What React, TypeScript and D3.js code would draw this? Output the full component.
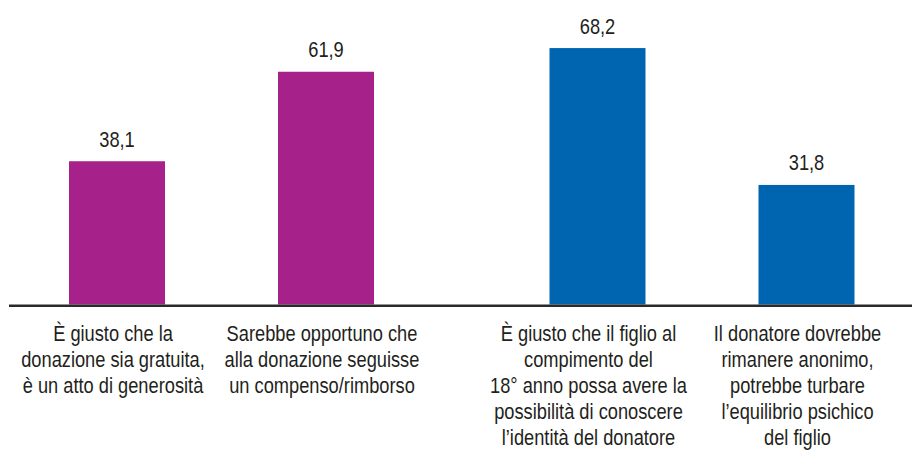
import React from "react";
import * as d3 from "d3";

const categories: string[][] = [
  ["È giusto che la", "donazione sia gratuita,", "è un atto di generosità"],
  ["Sarebbe opportuno che", "alla donazione seguisse", "un compenso/rimborso"],
  ["È giusto che il figlio al", "compimento del", "18° anno possa avere la", "possibilità di conoscere", "l’identità del donatore"],
  ["Il donatore dovrebbe", "rimanere anonimo,", "potrebbe turbare", "l’equilibrio psichico", "del figlio"],
];
const values: number[] = [38.1, 61.9, 68.2, 31.8];
const valueLabels: string[] = ["38,1", "61,9", "68,2", "31,8"];
const groups: string[] = ["A", "A", "B", "B"];
const groupColors: Record<string, string> = { A: "#A6218A", B: "#0065B0" };

const W = 912;
const H = 450;
const FONT = "'Liberation Sans', Arial, sans-serif";
const TEXT = "#231F20";
const SX = 0.83; // horizontal condensation of text

export default function App() {
  const baseY = 304.5;
  const y = d3.scaleLinear().domain([0, 100]).range([baseY, baseY - 376]);

  const outer = d3.scaleBand<string>().domain(["A", "B"]).range([-18.75, 942.25]).padding(0);
  const inner = d3
    .scaleBand<number>()
    .domain([0, 1])
    .range([0, outer.bandwidth()])
    .paddingInner(0.5407)
    .paddingOuter(0.4199);

  const idxInGroup = values.map((_, i) => groups.slice(0, i).filter((g) => g === groups[i]).length);
  const barX = (i: number) => (outer(groups[i]) as number) + (inner(idxInGroup[i]) as number);
  const bw = inner.bandwidth();
  const labelShift: Record<string, number> = { A: -4, B: -9 };

  return (
    <svg width={W} height={H} style={{ position: "absolute", left: 0, top: 0, background: "#fff" }}>
      <rect x={0} y={0} width={W} height={H} fill="#fff" />
      {values.map((v, i) => (
        <rect key={"b" + i} x={barX(i)} y={y(v)} width={bw} height={baseY - y(v)} fill={groupColors[groups[i]]} />
      ))}
      <line x1={9} x2={W} y1={baseY + 1.2} y2={baseY + 1.2} stroke="#2B2A2B" strokeWidth={2.6} />
      <g transform={`scale(${SX},1)`}>
        {values.map((v, i) => (
          <text
            key={"v" + i}
            x={(barX(i) + bw / 2) / SX}
            y={y(v) - 14.5}
            textAnchor="middle"
            fontFamily={FONT}
            fontSize={22}
            fill={TEXT}
          >
            {valueLabels[i]}
          </text>
        ))}
        {categories.map((lines, i) => (
          <text key={"c" + i} textAnchor="middle" fontFamily={FONT} fontSize={22} fill={TEXT}>
            {lines.map((ln, j) => (
              <tspan key={j} x={(barX(i) + bw / 2 + labelShift[groups[i]]) / SX} y={341.5 + j * 25.9}>
                {ln}
              </tspan>
            ))}
          </text>
        ))}
      </g>
    </svg>
  );
}
